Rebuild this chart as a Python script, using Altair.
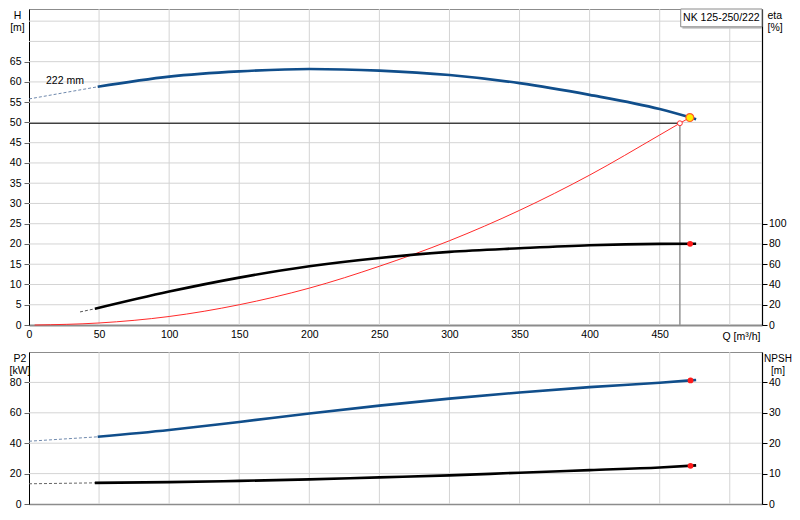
import altair as alt
import pandas as pd

# ---------------- data ----------------
# pump curve H [m], impeller 222 mm
h_dash_q = [0, 49]
h_dash_h = [55.8, 58.8]
h_q = [49, 100, 150, 200, 250, 300, 350, 400, 450, 476]
h_h = [58.8, 61.3, 62.6, 63.2, 62.8, 61.7, 59.7, 56.8, 53.3, 50.8]

# system curve [m]
sys_q = [4, 50, 100, 150, 200, 250, 300, 350, 400, 450, 464.4, 471.5]
sys_h = [0.0, 0.5, 2.1, 5.0, 9.1, 14.5, 20.8, 28.3, 37.0, 46.9, 49.8, 51.2]

# efficiency eta [%]
eta_dash_q = [36.4, 47]
eta_dash = [12.9, 16.0]
eta_q = [47, 100, 150, 200, 250, 300, 350, 400, 450, 476]
eta = [16.0, 33.0, 46.8, 58.0, 66.2, 72.2, 75.8, 78.8, 80.1, 80.2]

# shaft power P2 [kW]
p2_dash_q = [0, 49]
p2_dash = [41.3, 44.2]
p2_q = [49, 100, 150, 200, 250, 300, 350, 400, 450, 476]
p2 = [44.2, 48.7, 54.0, 59.5, 64.7, 69.3, 73.4, 76.9, 79.8, 81.6]

# NPSH [m]
npsh_dash_q = [0, 47]
npsh_dash = [6.65, 6.95]
npsh_q = [47, 100, 150, 200, 250, 300, 350, 400, 450, 476]
npsh = [6.95, 7.2, 7.6, 8.1, 8.75, 9.4, 10.3, 11.15, 12.0, 12.7]

# operating points
duty_q, duty_h = [471.5], [51.2]
req_q, req_h = [464.4], [49.8]
eta_pt_q, eta_pt = [471.7], [80.1]
p2_pt_q, p2_pt = [472.0], [81.3]
npsh_pt_q, npsh_pt = [472.0], [12.56]

# axes / grid values
q_ticks = [0, 50, 100, 150, 200, 250, 300, 350, 400, 450]
q_grid = [50, 100, 150, 200, 250, 300, 350, 400, 450, 500]
h_ticks = [0, 5, 10, 15, 20, 25, 30, 35, 40, 45, 50, 55, 60, 65]
h_grid = [5, 10, 15, 20, 25, 30, 35, 40, 45, 50, 55, 60, 65, 70, 75]
eta_ticks = [0, 20, 40, 60, 80, 100]
p2_ticks = [0, 20, 40, 60, 80]
p2_grid = [20, 40, 60, 80]
npsh_ticks = [0, 10, 20, 30, 40]

label_222 = ["222 mm"]
label_222_q, label_222_h = [39.2], [60.3]
box_text = ["NK 125-250/222"]
box_q, box_q2, box_h, box_h2 = [465], [523], [78], [73.6]

# ---------------- styling ----------------
FONT = "Liberation Sans"
FS = 10.5
BLUE = "#104e8b"
GRID = "#d4d4d4"
W = 733

def df(**cols):
    return pd.DataFrame(cols)

xs = alt.Scale(domain=[0, 523], nice=False, zero=False)
common_axis = dict(labelFontSize=FS, titleFontSize=FS, labelColor="#000",
                   titleColor="#000", titleFontWeight="normal", grid=False)

x_top = alt.X("Q:Q", scale=xs, axis=alt.Axis(
    values=q_ticks, ticks=False, labelPadding=4, labelFlush=False,
    domainColor="#8c8c8c", domainWidth=2,
    title="Q [m³/h]", titleX=693, titleY=11, titleAlign="left",
    titleBaseline="middle", **common_axis))
x_bot = alt.X("Q:Q", scale=xs, axis=alt.Axis(
    labels=False, ticks=False, title=None, domainColor="#8c8c8c",
    domainWidth=1.5, grid=False))

def y_axis_left(title, values, tx):
    return alt.Axis(orient="left", values=values, tickSize=5, tickColor="#666",
                    labelPadding=3, domainColor="#000", domainWidth=1,
                    title=title, titleAngle=0, titleAlign="center",
                    titleBaseline="top", titleX=tx, titleY=1,
                    titleLineHeight=12, **common_axis)

def y_axis_right(title, values, tx, align, tfs=FS):
    ax = dict(common_axis)
    ax["titleFontSize"] = tfs
    return alt.Axis(orient="right", values=values, tickSize=5, tickColor="#000",
                    labelPadding=1.5, domainColor="#000", domainWidth=1.2,
                    title=title, titleAngle=0, titleAlign=align,
                    titleBaseline="top", titleX=tx, titleY=1,
                    titleLineHeight=12, **ax)

y_h = alt.Y("H:Q", scale=alt.Scale(domain=[0, 78], nice=False),
            axis=y_axis_left(["H", "[m]"], h_ticks, -12))
y_eta = alt.Y("E:Q", scale=alt.Scale(domain=[0, 312], nice=False),
              axis=y_axis_right(["eta", "[%]"], eta_ticks, 5, "left"))
y_p2 = alt.Y("P:Q", scale=alt.Scale(domain=[0, 100], nice=False),
             axis=y_axis_left(["P2", "[kW]"], p2_ticks, -9.5))
y_np = alt.Y("N:Q", scale=alt.Scale(domain=[0, 50], nice=False),
             axis=y_axis_right(["NPSH", "[m]"], npsh_ticks, 15.5, "center", 10))

# ---------------- top panel ----------------
h_layers = [
    alt.Chart(df(H=h_grid)).mark_rule(color=GRID, strokeWidth=1).encode(y=y_h),
    alt.Chart(df(Q=q_grid)).mark_rule(color=GRID, strokeWidth=1).encode(x=x_top),
    alt.Chart(df(Q=[0], Q2=req_q, H=req_h)).mark_rule(color="#000", strokeWidth=1.2)
        .encode(x=x_top, x2="Q2:Q", y=y_h),
    alt.Chart(df(Q=req_q, H=[0], H2=req_h)).mark_rule(color="#9a9a9a", strokeWidth=1.6)
        .encode(x=x_top, y=y_h, y2="H2:Q"),
    alt.Chart(df(Q=sys_q, H=sys_h)).mark_line(color="#ff2a2a", strokeWidth=1,
                                              interpolate="monotone")
        .encode(x=x_top, y=y_h),
    alt.Chart(df(Q=h_dash_q, H=h_dash_h)).mark_line(color="#6f89ad", strokeWidth=1,
                                                    strokeDash=[3, 2])
        .encode(x=x_top, y=y_h),
    alt.Chart(df(Q=h_q, H=h_h)).mark_line(color=BLUE, strokeWidth=2.6,
                                          interpolate="monotone")
        .encode(x=x_top, y=y_h),
    alt.Chart(df(Q=label_222_q, H=label_222_h, t=label_222))
        .mark_text(align="right", baseline="middle", fontSize=FS, color="#000")
        .encode(x=x_top, y=y_h, text="t:N"),
    alt.Chart(df(Q=[b + 1.2 for b in box_q], Q2=box_q2, H=[b - 0.45 for b in box_h],
                 H2=[b - 0.45 for b in box_h2]))
        .mark_rect(fill="#c4c4c4")
        .encode(x=x_top, x2="Q2:Q", y=y_h, y2="H2:Q"),
    alt.Chart(df(Q=box_q, Q2=box_q2, H=box_h, H2=box_h2))
        .mark_rect(fill="#ffffff", stroke="#8a8a8a", strokeWidth=1)
        .encode(x=x_top, x2="Q2:Q", y=y_h, y2="H2:Q"),
    alt.Chart(df(Q=[(box_q[0] + box_q2[0]) / 2], H=[(box_h[0] + box_h2[0]) / 2], t=box_text))
        .mark_text(align="center", baseline="middle", fontSize=FS, color="#000")
        .encode(x=x_top, y=y_h, text="t:N"),
    alt.Chart(df(Q=req_q, H=req_h)).mark_circle(size=24, fill="#ffffff", stroke="#ff3333",
                                                strokeWidth=1, opacity=1)
        .encode(x=x_top, y=y_h),
    alt.Chart(df(Q=duty_q, H=duty_h)).mark_circle(size=62, fill="#ffee00", stroke="#ff5a2a",
                                                  strokeWidth=1.2, opacity=1)
        .encode(x=x_top, y=y_h),
]

eta_layers = [
    alt.Chart(df(Q=eta_dash_q, E=eta_dash)).mark_line(color="#555555", strokeWidth=1,
                                                      strokeDash=[3, 2])
        .encode(x=x_top, y=y_eta),
    alt.Chart(df(Q=eta_q, E=eta)).mark_line(color="#000000", strokeWidth=2.6,
                                            interpolate="monotone")
        .encode(x=x_top, y=y_eta),
    alt.Chart(df(Q=eta_pt_q, E=eta_pt)).mark_circle(size=34, color="#ff1a1a", opacity=1)
        .encode(x=x_top, y=y_eta),
]

top = alt.layer(alt.layer(*h_layers), alt.layer(*eta_layers)) \
    .resolve_scale(y="independent").properties(width=W, height=316)

# ---------------- bottom panel ----------------
p2_layers = [
    alt.Chart(df(P=p2_grid)).mark_rule(color=GRID, strokeWidth=1).encode(y=y_p2),
    alt.Chart(df(Q=q_grid)).mark_rule(color=GRID, strokeWidth=1).encode(x=x_bot),
    alt.Chart(df(Q=p2_dash_q, P=p2_dash)).mark_line(color="#6f89ad", strokeWidth=1,
                                                    strokeDash=[3, 2])
        .encode(x=x_bot, y=y_p2),
    alt.Chart(df(Q=p2_q, P=p2)).mark_line(color=BLUE, strokeWidth=2.6,
                                          interpolate="monotone")
        .encode(x=x_bot, y=y_p2),
    alt.Chart(df(Q=p2_pt_q, P=p2_pt)).mark_circle(size=34, color="#ff1a1a", opacity=1)
        .encode(x=x_bot, y=y_p2),
]

np_layers = [
    alt.Chart(df(Q=npsh_dash_q, N=npsh_dash)).mark_line(color="#666666", strokeWidth=1,
                                                        strokeDash=[3, 2])
        .encode(x=x_bot, y=y_np),
    alt.Chart(df(Q=npsh_q, N=npsh)).mark_line(color="#000000", strokeWidth=2.6,
                                              interpolate="monotone")
        .encode(x=x_bot, y=y_np),
    alt.Chart(df(Q=npsh_pt_q, N=npsh_pt)).mark_circle(size=34, color="#ff1a1a", opacity=1)
        .encode(x=x_bot, y=y_np),
]

bot = alt.layer(alt.layer(*p2_layers), alt.layer(*np_layers)) \
    .resolve_scale(y="independent").properties(width=W, height=152)

chart = alt.vconcat(top, bot, spacing=27, bounds="flush",
                    padding={"left": 0, "top": 0, "right": 0, "bottom": 0}) \
    .configure(font=FONT) \
    .configure_view(stroke="#8c8c8c", strokeWidth=1) \
    .configure_axis(labelFont=FONT, titleFont=FONT)

chart.save("out.html", embed_options={"renderer": "svg", "actions": False})
